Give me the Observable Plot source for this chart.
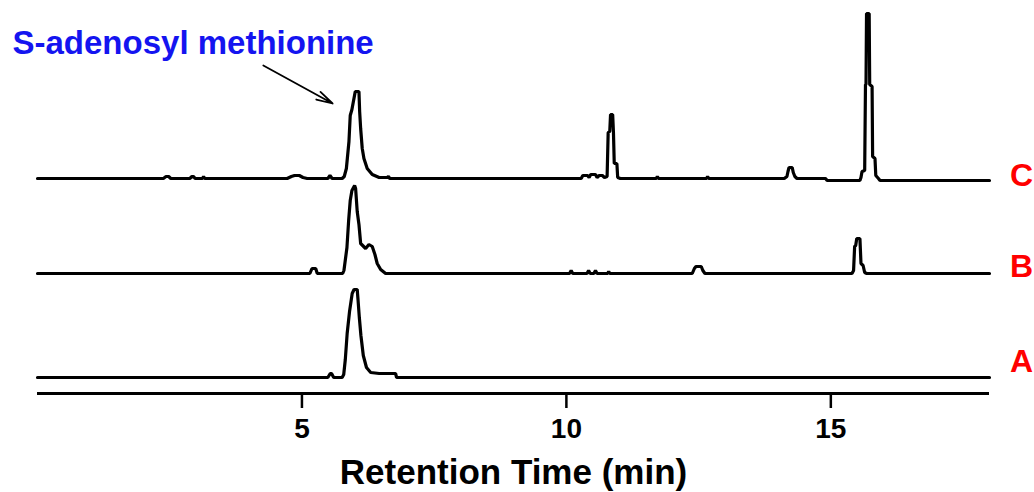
<!DOCTYPE html>
<html><head><meta charset="utf-8">
<script src="https://cdn.jsdelivr.net/npm/d3@7"></script>
<script src="https://cdn.jsdelivr.net/npm/@observablehq/plot@0.6"></script>
<style>html,body{margin:0;padding:0;background:#fff} svg{display:block}</style>
</head><body><div id="chart"></div>
<script>
// Retention time (min), detector signal (arbitrary units) for each sample
const traceA = [
  [0,0],[5.49,0],[5.535,4],[5.56,4],[5.60,0],[5.64,0],
  [5.76,0],[5.79,3],[5.82,18],[5.855,44],[5.90,66],[5.95,84],[5.985,88],[6.045,88],[6.06,78],
  [6.085,60],[6.115,42],[6.16,22],[6.22,10],[6.30,5],[6.46,4],[6.77,4],[6.79,0],[18,0]
];
const traceB = [
  [0,0],[5.15,0],[5.19,5],[5.26,5],[5.29,0],
  [5.77,0],[5.794,3],[5.851,26],[5.883,53],[5.913,73],[5.945,83],[5.996,88],[6.015,85],[6.045,62],
  [6.078,49],[6.110,30],[6.204,25],[6.266,29],[6.329,27],[6.380,19],[6.423,10],[6.488,4],[6.582,0],
  [10.06,0],[10.09,3],[10.12,0],[10.39,0],[10.42,3],[10.45,0],[10.52,0],[10.55,3],[10.58,0],[10.78,0],[10.80,2],[10.82,0],
  [12.38,0],[12.42,5],[12.45,7],[12.55,7],[12.58,3],[12.62,0],
  [15.40,0],[15.43,3],[15.45,27],[15.47,28],[15.49,35],[15.55,35],[15.57,10],[15.61,8],[15.64,1],[15.68,0],[18,0]
];
const traceC = [
  [0,0],[2.38,0],[2.43,2],[2.48,2],[2.52,0],[2.88,0],[2.92,2],[2.95,2],[2.98,0],[3.12,0],[3.14,2],[3.16,0],
  [4.72,0],[4.80,2],[4.86,3],[4.95,3],[5.02,1],[5.10,0],[5.49,0],[5.53,3],[5.57,0],
  [5.76,0],[5.80,2],[5.84,10],[5.889,37],[5.913,63],[5.945,69],[6.008,87],[6.078,87],[6.091,67],
  [6.110,50],[6.14,30],[6.172,20],[6.234,10],[6.329,4],[6.46,1],[6.61,1],[6.635,2],[6.66,0],
  [10.28,0],[10.31,3],[10.40,3],[10.43,1],[10.46,4],[10.55,4],[10.58,1],[10.62,3],[10.68,3],[10.72,1],[10.77,2],
  [10.79,46],[10.82,47],[10.835,64],[10.875,64],[10.89,46],[10.905,15],[10.955,15],[10.97,1],[11.02,0],
  [11.70,0],[11.72,2],[11.74,0],[12.65,0],[12.67,2],[12.69,0],
  [14.12,0],[14.17,2],[14.19,7],[14.21,11],[14.27,11],[14.29,6],[14.32,2],[14.36,0],
  [14.90,0],[14.93,-2],[15.55,-2],[15.57,1],[15.59,7],[15.64,8],[15.655,94],[15.665,94],[15.675,165],
  [15.725,165],[15.735,94],[15.78,92],[15.79,22],[15.835,20],[15.85,3],[15.90,0],[15.93,-2],[18,-2]
];
const traceNames = ["A", "B", "C"];
const traceOffsets = [16, 120, 215];
const labelLift = [16, 7, 3];
const xDomain = [0, 18];
const yDomain = [0, 383];
const xTicks = [5, 10, 15];
const xLabel = "Retention Time (min)";
const annotationText = "S-adenosyl methionine";
const annotationArrow = [{x1: 4.27, y1: 328, x2: 5.58, y2: 290}];

const rows = [];
[traceA, traceB, traceC].forEach((tr, i) =>
  tr.forEach(([t, v]) => rows.push({trace: traceNames[i], t, y: v + traceOffsets[i]})));

const font = "'Liberation Sans', Arial, Helvetica, sans-serif";
const chart = Plot.plot({
  width: 1034, height: 492,
  marginLeft: 37, marginRight: 45, marginTop: 10, marginBottom: 99,
  x: {domain: xDomain},
  y: {domain: yDomain, axis: null},
  style: {fontFamily: font, background: "#fff", overflow: "visible"},
  marks: [
    Plot.line(rows, {x: "t", y: "y", z: "trace", stroke: "#000", strokeWidth: 3.2, strokeLinejoin: "miter"}),
    Plot.ruleY([0], {x1: xDomain[0], x2: xDomain[1], stroke: "#000", strokeWidth: 3.2}),
    Plot.axisX({ticks: xTicks, tickSize: 15, tickPadding: 10, strokeWidth: 2.5, fontSize: 28, fontWeight: "bold", label: null, fill: "#000"}),
    Plot.text([xLabel], {frameAnchor: "bottom", dy: 79, lineAnchor: "middle", fontSize: 35, fontWeight: "bold", fill: "#000"}),
    Plot.text(traceNames, {x: xDomain[1], y: (d, i) => traceOffsets[i] + labelLift[i], dx: 32, lineAnchor: "middle", textAnchor: "middle", fill: "#ff0000", fontSize: 32, fontWeight: "bold"}),
    Plot.arrow(annotationArrow, {x1: "x1", y1: "y1", x2: "x2", y2: "y2", stroke: "#000", strokeWidth: 1.8, headLength: 14, headAngle: 30}),
    Plot.text([annotationText], {frameAnchor: "top-left", dx: -25, dy: 43, lineAnchor: "bottom", textAnchor: "start", fill: "#1414f0", fontSize: 33, fontWeight: "bold"})
  ]
});
document.getElementById("chart").appendChild(chart);
</script>
</body></html>
